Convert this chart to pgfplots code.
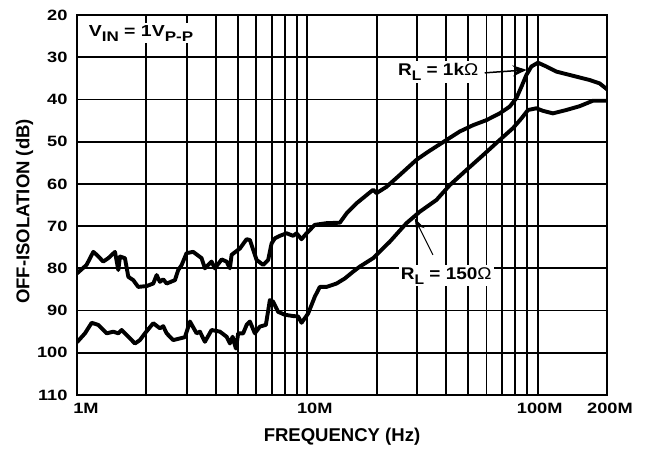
\documentclass[border=0pt]{standalone}
\usepackage{fontspec}
\setmainfont{Liberation Sans}
\newfontfamily\wfont[FakeStretch=1.22]{Liberation Sans}
\newfontfamily\afont[FakeStretch=1.12]{Liberation Sans}
\usepackage{pgfplots}
\pgfplotsset{compat=1.18}
\usetikzlibrary{arrows.meta,calc}
\newcommand{\sub}[1]{\raisebox{-0.3em}{\fontsize{14}{14}\selectfont #1}}
\begin{document}
\begin{tikzpicture}
\begin{axis}[
  scale only axis, width=530bp, height=380bp,
  xmode=log, xmin=1, xmax=200, ymin=20, ymax=110, y dir=reverse,
  xtick={1,10,100,200},
  xticklabels={\hspace*{18bp}1M,\hspace*{15bp}10M,\hspace*{4bp}100M,\hspace*{6bp}200M},
  minor xtick={2,3,4,5,6,7,8,9,20,30,40,50,60,70,80,90},
  ytick={20,30,...,110},
  grid=both,
  major grid style={black, line width=1.8bp},
  minor grid style={black, line width=1.8bp},
  axis line style={line width=2.3bp},
  major tick length=0pt, minor tick length=0pt,
  tick label style={font=\wfont\fontsize{15}{18}\selectfont\bfseries},
  /pgf/number format/assume math mode=true,
  yticklabel style={xshift=-6bp},
  xticklabel style={yshift=-5bp},
  clip=true,
]
\addplot[black, line width=3.9bp, line join=round] coordinates {
(1,81.2) (1.10,79.2) (1.177,76.1) (1.218,76.8) (1.30,78.4) (1.367,77.6) (1.462,76.1)
(1.511,80.4) (1.537,77.2) (1.615,77.6) (1.670,82.0) (1.755,82.8) (1.845,84.4)
(2.006,84.2) (2.143,83.6) (2.217,81.6) (2.291,83.2) (2.368,82.6) (2.450,83.6)
(2.662,82.8) (2.751,80.4) (2.847,79.2) (2.991,76.4) (3.195,76.1) (3.475,77.6)
(3.592,80.0) (3.841,78.4) (3.970,80.0) (4.245,77.9) (4.462,78.4) (4.612,80.0)
(4.691,76.8) (5.096,75.3) (5.449,73.1) (5.632,73.3) (6.022,78.0) (6.433,79.2)
(6.761,78.0) (6.995,74.1) (7.228,72.9) (7.598,72.3) (8.125,71.7) (8.678,72.3)
(8.979,71.7) (9.437,73.1) (9.92,71.7) (10.78,69.7) (12.12,69.3) (13.84,69.2)
(14.80,67.0) (16.35,64.6) (19.30,61.4) (19.96,62.2) (22.06,60.7) (25.19,57.9)
(29.77,54.3) (33.43,52.4) (40.18,49.6) (45.87,47.6) (52.41,46.1) (59.91,44.9)
(68.41,43.3) (75.59,41.7) (80.83,39.7) (85.00,37.0) (89.35,34.2) (93.90,32.2)
(100.3,31.3) (109.1,32.2) (120.5,33.4) (142.3,34.4) (168.2,35.4) (185.8,36.2)
(200,37.6)
};
\addplot[black, line width=3.9bp, line join=round] coordinates {
(1,97.5) (1.083,95.4) (1.158,92.9) (1.237,93.4) (1.346,95.4) (1.437,95.0)
(1.511,95.4) (1.563,94.6) (1.670,96.2) (1.785,97.8) (1.876,97.0) (1.972,95.4)
(2.143,93.0) (2.291,94.2) (2.368,93.7) (2.450,95.4) (2.617,97.0) (2.942,96.3)
(3.093,92.6) (3.306,95.4) (3.417,95.0) (3.592,97.4) (3.841,94.6) (4.173,95.0)
(4.462,96.2) (4.612,97.8) (4.738,96.2) (4.896,99.0) (5.010,95.4) (5.267,95.4)
(5.449,93.4) (5.632,92.6) (5.918,95.4) (6.222,93.8) (6.607,93.4) (6.876,87.5)
(7.107,87.9) (7.469,90.3) (7.988,91.0) (8.678,91.3) (9.122,91.4) (9.437,92.9)
(10.08,90.7) (10.78,86.7) (11.33,84.4) (12.12,84.4) (13.39,83.6) (14.55,82.4)
(15.80,80.8) (16.89,79.6) (19.30,77.6) (22.80,73.7) (26.94,69.3) (30.77,66.6)
(36.36,63.8) (41.52,60.3) (49.07,56.7) (57.90,53.2) (68.41,49.6) (78.13,46.8)
(85.0,44.5) (90.77,42.5) (98.7,42.1) (105.4,42.7) (116.5,43.3) (133.2,42.5)
(152.1,41.6) (173.8,40.3) (200,40.3)
};
\node[fill=white, inner sep=2bp, font=\wfont\fontsize{16}{18}\selectfont\bfseries]
  at (axis cs:1.896,24.3) {V\sub{IN} = 1V\sub{P-P}};
\node[fill=white, inner sep=2bp, font=\afont\fontsize{17}{18}\selectfont\bfseries]
  at (axis cs:37.0,33.5) {R\sub{L} = 1k{\mdseries Ω}};
\node[fill=white, inner sep=2bp, font=\afont\fontsize{17}{18}\selectfont\bfseries]
  at (axis cs:40.1,81.8) {R\sub{L} = 150{\mdseries Ω}};
\draw[line width=1.5bp, -{Stealth[length=14bp,width=11bp]}] (axis cs:58.9,33.7) -- (axis cs:89.6,33.0);
\draw[line width=1bp, -{Stealth[length=13bp,width=9bp]}] (axis cs:35.1,76.8) -- (axis cs:29.27,68.2);
\end{axis}
\node[rotate=90, font=\fontsize{18.6}{20}\selectfont\bfseries] at ($(current axis.west)+(-52.3bp,-6.5bp)$) {OFF-ISOLATION (dB)};
\path (current axis.south west) ++(-77bp,-55bp) coordinate (bl);
\path (current axis.north east) ++(42bp,15bp) coordinate (tr);
\node[font=\fontsize{18.6}{20}\selectfont\bfseries] at ($(current axis.south)+(0,-41.5bp)$) {FREQUENCY (Hz)};
\path[use as bounding box] (bl) rectangle (tr);
\end{tikzpicture}
\end{document}
